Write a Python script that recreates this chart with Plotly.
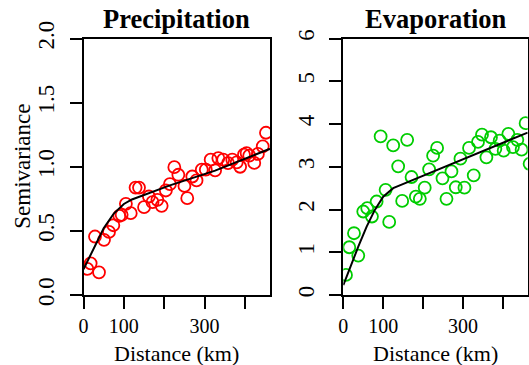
import plotly.graph_objects as go

# Precipitation semivariogram (empirical points)
prec_dist = [9.5, 17.7, 38.4, 28.5, 50.8, 63.2, 73.9, 88.8, 94.5, 105, 117, 129, 137.5, 150, 162,
             171, 183, 193.6, 204, 214, 225, 235, 250, 257, 269.5, 280, 293, 303, 315, 326,
             334, 346, 358, 368.6, 379.5, 388, 397.5, 404, 410.6, 423, 432, 444, 452]
prec_gamma = [0.203, 0.247, 0.177, 0.456, 0.43, 0.492, 0.544, 0.617, 0.625, 0.711, 0.638, 0.838, 0.838,
              0.685, 0.768, 0.724, 0.742, 0.695, 0.815, 0.864, 0.997, 0.9375, 0.85, 0.755, 0.924,
              0.893, 0.977, 0.977, 1.055, 0.971, 1.068, 1.055, 1.029, 1.055, 1.034, 1.0, 1.094,
              1.107, 1.086, 1.03, 1.1, 1.159, 1.265]
# Precipitation fitted model line
prec_fit_x = [0, 25, 50, 75, 100, 120, 214, 326, 462]
prec_fit_y = [0.20, 0.355, 0.52, 0.635, 0.71, 0.745, 0.855, 0.97, 1.14]

# Evaporation semivariogram (empirical points)
evap_dist = [6.75, 15, 26.75, 37.5, 50, 60, 71.75, 83.5, 93.5, 106, 115, 125, 137.5, 147.5, 160,
             171, 181.75, 191.75, 204, 215, 225, 235, 248.5, 258.5, 271, 281.75, 293.5, 303.5,
             315, 326.75, 337.5, 347.5, 358.5, 370, 381, 391.75, 401.75, 413.5, 425, 436,
             446.75, 456.75, 466.75]
evap_gamma = [0.469, 1.117, 1.445, 0.922, 1.953, 2.03, 1.836, 2.187, 3.71, 2.46, 1.71, 3.5, 3.01,
              2.2, 3.63, 2.76, 2.30, 2.25, 2.51, 2.94, 3.26, 3.44, 2.73, 2.25, 2.89, 2.52, 3.19,
              2.51, 3.44, 2.80, 3.58, 3.75, 3.22, 3.69, 3.42, 3.61, 3.375, 3.77, 3.46, 3.63,
              3.40, 4.02, 3.07]
# Evaporation fitted model line
evap_fit_x = [0, 17, 37.5, 58.5, 79, 100, 125, 140, 300, 462]
evap_fit_y = [0.23, 0.66, 1.13, 1.6, 1.99, 2.3, 2.5, 2.56, 3.18, 3.80]

x_tickvals = [0, 100, 200, 300, 400]
x_ticktext = ["0", "100", "", "300", ""]
prec_yticks = [0, 0.5, 1.0, 1.5, 2.0]
evap_yticks = [0, 1, 2, 3, 4, 5, 6]

FONT = "Liberation Serif"
W, H = 529, 365

fig = go.Figure()
fig.add_trace(go.Scatter(x=prec_dist, y=prec_gamma, mode="markers", xaxis="x", yaxis="y",
                         marker=dict(symbol="circle-open", size=12, color="#FF0000",
                                     line=dict(width=1.8, color="#FF0000")),
                         showlegend=False))
fig.add_trace(go.Scatter(x=prec_fit_x, y=prec_fit_y, mode="lines", xaxis="x", yaxis="y",
                         line=dict(color="black", width=2), showlegend=False))
fig.add_trace(go.Scatter(x=evap_dist, y=evap_gamma, mode="markers", xaxis="x2", yaxis="y2",
                         marker=dict(symbol="circle-open", size=12, color="#00CD00",
                                     line=dict(width=1.8, color="#00CD00")),
                         showlegend=False))
fig.add_trace(go.Scatter(x=evap_fit_x, y=evap_fit_y, mode="lines", xaxis="x2", yaxis="y2",
                         line=dict(color="black", width=2), showlegend=False))

left1, right1 = 83.5, 270
left2, right2 = 343.3, 527.7
top, bottom = 38.5, 295
ydom = [(H - bottom) / H, (H - top) / H]

axis_common = dict(showline=True, linecolor="black", linewidth=2, mirror=True,
                   ticks="outside", ticklen=12, tickwidth=2, tickcolor="black",
                   showgrid=False, zeroline=False, automargin=False)
xfont = dict(family=FONT, size=20, color="black")
yfont = dict(family=FONT, size=23, color="black")

fig.update_layout(
    width=W, height=H,
    margin=dict(l=0, r=0, t=0, b=0, autoexpand=False),
    paper_bgcolor="white", plot_bgcolor="white",
    xaxis=dict(domain=[left1 / W, right1 / W], range=[0, 462], anchor="y",
               tickvals=x_tickvals, ticktext=x_ticktext, tickfont=xfont, **axis_common),
    yaxis=dict(domain=ydom, range=[0, 2], anchor="x", tickvals=prec_yticks,
               tickformat=".1f", tickangle=-90, ticklabelstandoff=6, tickfont=yfont,
               **axis_common),
    xaxis2=dict(domain=[left2 / W, right2 / W], range=[0, 462], anchor="y2",
                tickvals=x_tickvals, ticktext=x_ticktext, tickfont=xfont, **axis_common),
    yaxis2=dict(domain=ydom, range=[0, 6], anchor="x2", tickvals=evap_yticks,
                tickangle=-90, ticklabelstandoff=6, tickfont=yfont, **axis_common),
)

ann = []
for cx, txt in [((left1 + right1) / 2, "Precipitation"), ((left2 + right2) / 2, "Evaporation")]:
    ann.append(dict(x=cx / W, y=(H - 19) / H, xref="paper", yref="paper", text="<b>" + txt + "</b>",
                    showarrow=False, xanchor="center", yanchor="middle",
                    font=dict(family=FONT, size=26.5, color="black")))
    ann.append(dict(x=cx / W, y=(H - 353) / H, xref="paper", yref="paper", text="Distance (km)",
                    showarrow=False, xanchor="center", yanchor="middle",
                    font=dict(family=FONT, size=22, color="black")))
ann.append(dict(x=23 / W, y=(H - (top + bottom) / 2) / H, xref="paper", yref="paper",
                text="Semivariance", textangle=-90, showarrow=False, xanchor="center",
                yanchor="middle", font=dict(family=FONT, size=23, color="black")))
fig.update_layout(annotations=ann)

fig.write_html("out.html", config={"displayModeBar": False},
               post_script="document.body.style.margin='0px';")
